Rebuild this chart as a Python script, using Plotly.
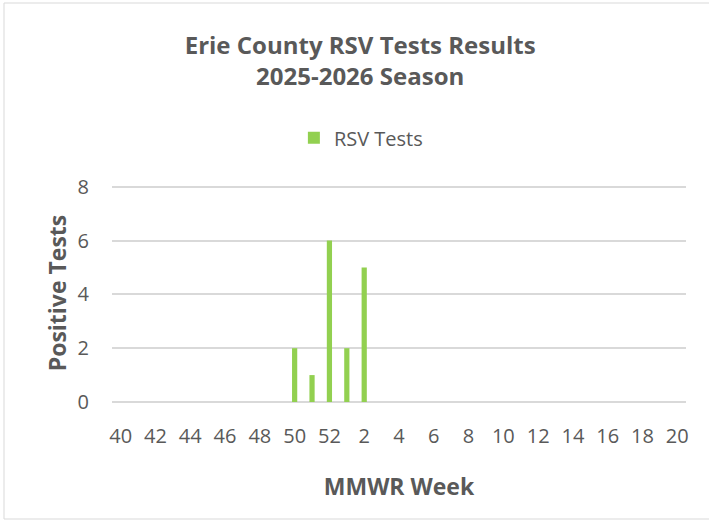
import plotly.graph_objects as go

# MMWR weeks of the 2025-2026 season
weeks = [str(w) for w in range(40, 53)] + [str(w) for w in range(1, 21)]
# positive RSV tests per week (only weeks 50..2 have values)
positives = [None] * 10 + [2, 1, 6, 2, 5] + [None] * 18

GREEN = "#92D050"
GREY = "#595959"
FONT = "Open Sans, sans-serif"

fig = go.Figure(go.Bar(
    x=weeks,
    y=positives,
    name="RSV Tests",
    marker=dict(color=GREEN, line=dict(width=0)),
    width=0.3,
))

fig.update_layout(
    width=709,
    height=520,
    paper_bgcolor="white",
    plot_bgcolor="white",
    font=dict(family=FONT, size=20, color=GREY),
    margin=dict(l=112, r=23, t=184, b=118),
    title=dict(
        text="<b>Erie County RSV Tests Results<br>2025-2026 Season</b>",
        x=0.508, xref="container", xanchor="center",
        y=0.896, yref="container", yanchor="middle",
        font=dict(size=24, color=GREY, family=FONT),
    ),
    showlegend=True,
    legend=dict(
        orientation="h",
        x=0.509, xref="container", xanchor="center",
        y=0.735, yref="container", yanchor="middle",
        font=dict(size=20, color=GREY),
        itemwidth=30,
    ),
    xaxis=dict(
        type="category",
        tickmode="array",
        tickvals=weeks[::2],
        ticktext=weeks[::2],
        showgrid=False,
        showline=False,
        ticks="",
        ticklabelstandoff=20,
        tickfont=dict(size=20, color=GREY),
        title=dict(text="<b>MMWR Week</b>", font=dict(size=23, color=GREY), standoff=30),
    ),
    yaxis=dict(
        range=[0, 8.1],
        tickvals=[0, 2, 4, 6, 8],
        showgrid=True,
        gridcolor="#D9D9D9",
        gridwidth=2,
        zeroline=True,
        zerolinecolor="#D9D9D9",
        zerolinewidth=2,
        ticks="",
        ticklabelstandoff=22,
        tickfont=dict(size=20, color=GREY),
        title=dict(text="<b>Positive Tests</b>", font=dict(size=23, color=GREY), standoff=4),
    ),
)

# light frame around the whole chart area (right edge runs past the page)
plot_w = 709 - 112 - 23
plot_h = 520 - 184 - 118
fig.add_shape(
    type="rect", xref="paper", yref="paper",
    x0=(4 - 112) / plot_w, x1=(715 - 112) / plot_w,
    y0=(520 - 519 - 118) / plot_h, y1=(520 - 3 - 118) / plot_h,
    line=dict(color="#D9D9D9", width=1), fillcolor="rgba(0,0,0,0)", layer="below",
)

fig.write_html(
    "out.html",
    config={"displayModeBar": False},
    post_script="document.body.style.margin='0px';",
)
